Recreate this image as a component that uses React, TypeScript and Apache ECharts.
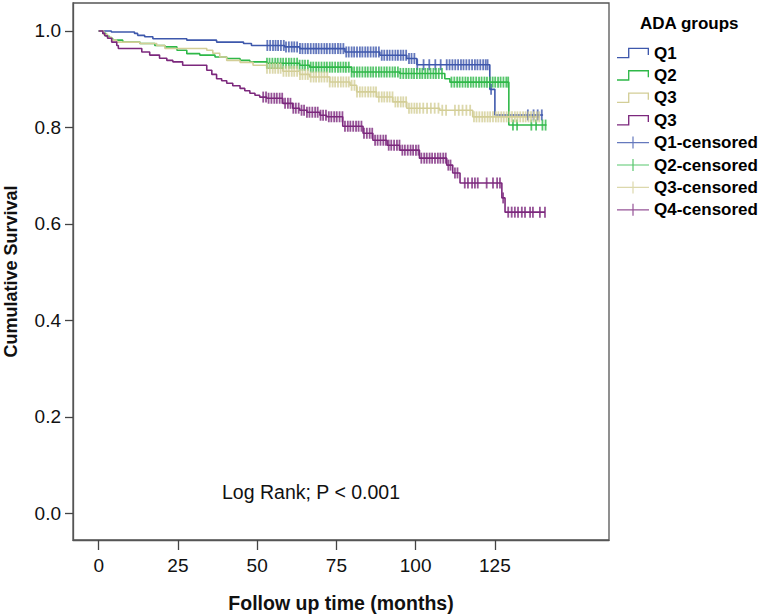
import React, { useEffect, useRef } from "react";
import * as echarts from "echarts";

// Kaplan-Meier step points: [time (months), cumulative survival after the event]
const q1Steps: [number, number][] = [
  [0, 1.0], [4.0, 0.998], [11.3, 0.995], [12.3, 0.991], [14.5, 0.988], [17.1, 0.984],
  [27.8, 0.981], [37.2, 0.977], [45.7, 0.974], [48.2, 0.970], [58.7, 0.967], [63.4, 0.9635],
  [77.7, 0.9565], [88.7, 0.9497], [97.2, 0.943], [100.4, 0.930], [123.4, 0.879], [125.0, 0.826],
  [140.2, 0.826],
];
const q2Steps: [number, number][] = [
  [0, 1.0], [1.3, 0.995], [2.3, 0.989], [3.4, 0.985], [4.4, 0.981], [7.6, 0.977], [13.0, 0.974],
  [17.7, 0.970], [20.9, 0.967], [24.7, 0.960], [27.8, 0.953], [31.9, 0.950], [36.7, 0.946],
  [40.4, 0.943], [44.6, 0.939], [47.7, 0.936], [53.0, 0.933], [63.4, 0.929], [66.6, 0.925],
  [79.8, 0.915], [95.0, 0.912], [109.2, 0.901], [110.8, 0.894], [129.4, 0.805], [141.3, 0.805],
];
const q3Steps: [number, number][] = [
  [0, 1.0], [1.6, 0.993], [2.8, 0.987], [4.1, 0.981], [5.7, 0.977], [13.0, 0.974], [18.3, 0.970],
  [20.9, 0.9636], [34.1, 0.960], [36.0, 0.954], [38.2, 0.946], [40.4, 0.939], [44.6, 0.935],
  [48.7, 0.929], [53.0, 0.9228], [58.1, 0.9165], [63.4, 0.910], [66.6, 0.9047], [72.9, 0.8944],
  [79.3, 0.8875], [81.4, 0.8737], [87.7, 0.8633], [92.8, 0.853], [97.2, 0.840], [107.6, 0.8357],
  [118.0, 0.822], [139.2, 0.822],
];
const q4Steps: [number, number][] = [
  [0, 1.0], [1.3, 0.995], [1.9, 0.990], [2.8, 0.985], [4.1, 0.977], [5.7, 0.970], [6.2, 0.9636],
  [13.6, 0.9565], [16.1, 0.950], [19.2, 0.9435], [21.5, 0.939], [23.4, 0.936], [26.5, 0.929],
  [34.1, 0.9186], [35.7, 0.910], [37.2, 0.901], [38.8, 0.897], [40.4, 0.8917], [42.3, 0.8865],
  [44.6, 0.881], [46.1, 0.876], [47.7, 0.871], [49.3, 0.8668], [50.8, 0.863], [53.0, 0.8606],
  [58.1, 0.850], [61.2, 0.840], [63.4, 0.8357], [65.7, 0.8316], [69.8, 0.8254], [71.9, 0.8222],
  [77.0, 0.8026], [83.4, 0.788], [86.5, 0.7736], [91.0, 0.7633], [95.0, 0.753], [101.2, 0.7364],
  [109.8, 0.722], [111.7, 0.7058], [114.0, 0.685], [127.2, 0.654], [128.2, 0.6245], [140.8, 0.6245],
];

// Censoring times (months)
const q1Censor: number[] = [
  53.2, 54.1, 55.0, 55.8, 56.6, 57.5, 58.4, 59.1, 60.0, 60.9, 61.7, 62.6, 63.5, 64.3, 65.2, 66.0,
  66.9, 67.8, 68.6, 69.4, 70.3, 71.2, 72.0, 72.9, 73.8, 74.6, 75.5, 76.3, 77.2, 78.1, 78.9, 79.8,
  80.6, 81.5, 82.4, 83.2, 84.1, 84.9, 85.8, 86.7, 87.5, 88.4, 89.3, 90.1, 91.0, 91.8, 92.7, 93.6,
  94.4, 95.3, 96.1, 97.0, 97.9, 98.7, 99.6, 100.5, 102.5, 104.3, 106.2, 107.9, 109.8, 110.7,
  111.6, 112.5, 113.4, 114.3, 115.1, 116.0, 116.9, 117.8, 118.7, 119.5, 120.4, 121.3, 122.1,
  122.7, 123.8, 135.4, 137.2, 138.5, 139.8,
];
const q2Censor: number[] = [
  53.1, 53.9, 54.8, 55.7, 56.5, 57.4, 58.2, 59.1, 60.0, 60.8, 61.7, 62.6, 63.4, 64.3, 65.1, 66.0,
  66.9, 67.7, 68.6, 69.4, 70.3, 71.2, 72.0, 72.9, 73.7, 74.6, 75.5, 76.3, 77.2, 78.0, 78.9, 79.8,
  80.6, 81.5, 82.3, 83.2, 84.1, 84.9, 85.8, 86.6, 87.5, 88.4, 89.2, 90.1, 90.9, 91.8, 92.7, 93.5,
  94.4, 95.2, 96.1, 97.0, 97.8, 98.7, 99.5, 100.4, 101.3, 102.1, 103.0, 103.8, 104.7, 105.6,
  106.4, 107.3, 108.3, 111.3, 112.2, 113.1, 113.9, 114.8, 115.7, 116.5, 117.4, 118.2, 119.1,
  120.0, 120.8, 121.7, 122.5, 123.4, 124.3, 125.1, 126.0, 126.8, 127.7, 128.6, 129.2, 130.7,
  132.0, 136.5, 138.0, 140.0, 141.0,
];
const q3Censor: number[] = [
  53.1, 54.0, 54.9, 55.7, 56.6, 57.4, 58.3, 59.2, 60.0, 60.9, 61.7, 62.6, 63.5, 64.3, 65.2, 66.0,
  66.9, 67.8, 68.6, 69.5, 70.3, 71.2, 72.1, 72.9, 73.8, 74.6, 75.5, 76.4, 77.2, 78.1, 78.9, 79.8,
  80.7, 81.5, 82.4, 83.2, 84.1, 85.0, 85.8, 86.7, 87.5, 88.4, 89.3, 90.1, 91.0, 91.8, 92.7, 93.6,
  94.4, 95.3, 96.1, 97.0, 97.9, 98.7, 99.6, 100.4, 101.3, 102.4, 103.6, 104.8, 106.0, 107.2,
  108.4, 109.6, 112.4, 113.6, 114.8, 116.0, 117.2, 118.4, 119.2, 120.1, 121.0, 121.8, 122.7,
  123.5, 124.4, 125.3, 126.1, 127.0, 127.8, 128.7, 129.6, 130.4, 131.3, 132.1, 133.0, 133.9,
  134.7, 135.6, 136.4, 137.3, 138.2, 139.0,
];
const q4Censor: number[] = [
  51.9, 52.8, 53.6, 54.5, 55.4, 56.2, 57.1, 57.9, 58.8, 59.7, 60.5, 61.4, 62.2, 63.1, 64.0, 64.8,
  65.7, 66.5, 67.4, 68.3, 69.1, 70.0, 70.8, 71.7, 72.6, 73.4, 74.3, 75.1, 76.0, 76.9, 77.7, 78.6,
  79.4, 80.3, 81.2, 82.0, 82.9, 83.7, 84.6, 85.5, 86.3, 87.2, 88.0, 88.9, 89.8, 90.6, 91.5, 92.3,
  93.2, 94.1, 94.9, 95.8, 96.6, 97.5, 98.4, 99.2, 100.1, 100.9, 101.8, 102.7, 103.5, 104.4,
  105.2, 106.1, 107.0, 107.8, 108.7, 109.5, 110.3, 111.0, 112.4, 113.2, 115.5, 116.5, 117.8,
  118.7, 119.6, 122.4, 124.4, 125.7, 126.6, 127.6, 129.2, 130.3, 131.3, 132.3, 133.5, 134.5,
  136.1, 137.0, 139.2, 140.8,
];

const xTicks = [0, 25, 50, 75, 100, 125];
const yTicks = [0, 0.2, 0.4, 0.6, 0.8, 1.0];
const groupNames = ["Q1", "Q2", "Q3", "Q4"];
const legendLabels: Record<string, string> = { Q4: "Q3" };
const colors = ["#3E58AC", "#2EB848", "#D3CE97", "#7C287D"];

const FONT = "'Liberation Sans', Arial, sans-serif";

function survivalAt(steps: [number, number][], t: number): number {
  let s = steps[0][1];
  for (const [time, val] of steps) {
    if (time <= t) s = val;
    else break;
  }
  return s;
}

const stepIcon =
  "path://M0,10 L12,10 L12,11.3 L0,11.3 Z M10.7,1 L12,1 L12,11.3 L10.7,11.3 Z M10.7,1 L31,1 L31,2.3 L10.7,2.3 Z M29.7,1 L31,1 L31,8 L29.7,8 Z";
const plusIcon =
  "path://M0,5.4 L32,5.4 L32,6.6 L0,6.6 Z M15.4,0 L16.6,0 L16.6,12 L15.4,12 Z";

export default function App() {
  const ref = useRef<HTMLDivElement>(null);
  useEffect(() => {
    if (!ref.current) return;
    const chart = echarts.init(ref.current, undefined, { renderer: "svg" });
    const stepsAll = [q1Steps, q2Steps, q3Steps, q4Steps];
    const censorAll = [q1Censor, q2Censor, q3Censor, q4Censor];

    const lineSeries = stepsAll.map((steps, i) => ({
      name: groupNames[i],
      type: "line",
      step: "end",
      data: steps,
      symbol: "none",
      lineStyle: { color: colors[i], width: 1.6 },
      itemStyle: { color: colors[i] },
      z: 2,
    }));
    const censorSeries = censorAll.map((times, i) => ({
      name: groupNames[i] + "-censored",
      type: "scatter",
      data: times.map((t) => [t, survivalAt(stepsAll[i], t)]),
      symbol: "rect",
      symbolSize: [1.8, 11],
      itemStyle: { color: colors[i] },
      z: 3,
    }));

    chart.setOption({
      animation: false,
      backgroundColor: "#ffffff",
      title: {
        text: "ADA groups",
        left: 640,
        top: 15,
        padding: 0,
        textStyle: { fontSize: 17, fontWeight: "bold", fontFamily: FONT, color: "#000" },
      },
      legend: {
        orient: "vertical",
        left: 617,
        top: 44.5,
        padding: 0,
        itemWidth: 32,
        itemHeight: 12,
        itemGap: 5.4,
        selectedMode: false,
        formatter: (name: string) => legendLabels[name] ?? name,
        textStyle: { fontSize: 17, fontWeight: "bold", fontFamily: FONT, color: "#000" },
        data: [
          ...groupNames.map((n) => ({ name: n, icon: stepIcon })),
          ...groupNames.map((n) => ({ name: n + "-censored", icon: plusIcon })),
        ],
      },
      grid: {
        left: 73,
        top: 3,
        right: 153,
        bottom: 76,
        containLabel: false,
        outerBoundsMode: "none",
        show: true,
        borderColor: "#555",
        borderWidth: 1.3,
      },
      xAxis: {
        type: "value",
        min: -8.1,
        max: 161,
        axisLine: { show: true, onZero: false, lineStyle: { color: "#555", width: 1.3 } },
        axisTick: { show: true, inside: false, length: 10, customValues: xTicks, lineStyle: { color: "#444", width: 1.3 } },
        axisLabel: { customValues: xTicks, fontSize: 19, color: "#111", fontFamily: FONT, margin: 16 },
        splitLine: { show: false },
        name: "Follow up time (months)",
        nameLocation: "middle",
        nameGap: 53,
        nameTextStyle: { fontSize: 19.5, fontWeight: "bold", fontFamily: FONT, color: "#111" },
      },
      yAxis: {
        type: "value",
        min: -0.055,
        max: 1.058,
        axisLine: { show: true, onZero: false, lineStyle: { color: "#555", width: 1.3 } },
        axisTick: { show: true, inside: false, length: 8, customValues: yTicks, lineStyle: { color: "#444", width: 1.3 } },
        axisLabel: {
          customValues: yTicks,
          fontSize: 19,
          color: "#111",
          fontFamily: FONT,
          margin: 12,
          formatter: (v: number) => v.toFixed(1),
        },
        splitLine: { show: false },
        name: "Cumulative Survival",
        nameLocation: "middle",
        nameGap: 53,
        nameTextStyle: { fontSize: 18, fontWeight: "bold", fontFamily: FONT, color: "#111" },
      },
      graphic: [
        {
          type: "text",
          left: 222,
          top: 482,
          style: { text: "Log Rank; P < 0.001", fontSize: 19.5, fontFamily: FONT, fill: "#111" },
        },
      ],
      series: [...lineSeries, ...censorSeries],
    });
    return () => chart.dispose();
  }, []);
  return (
    <div
      ref={ref}
      style={{ position: "absolute", left: 0, top: 0, width: 762, height: 616, background: "#fff" }}
    />
  );
}
